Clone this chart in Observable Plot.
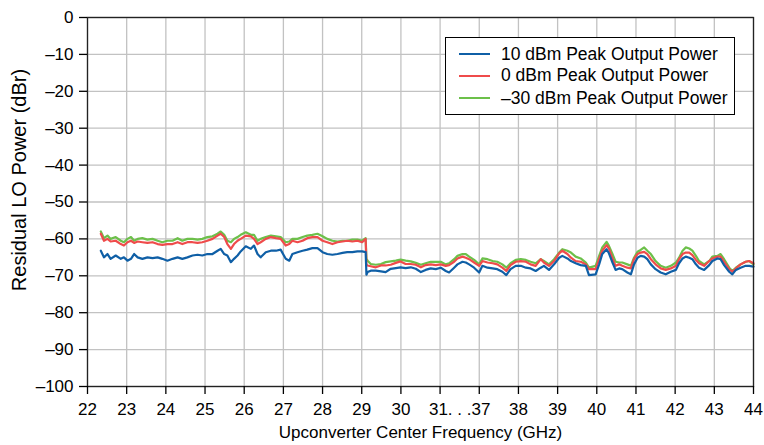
<!DOCTYPE html>
<html><head><meta charset="utf-8">
<script src="https://cdn.jsdelivr.net/npm/d3@7"></script>
<script src="https://cdn.jsdelivr.net/npm/@observablehq/plot@0.6"></script>
<style>
body{margin:0;background:#fff;}
#wrap{position:relative;width:764px;height:445px;font-family:"Liberation Sans",Arial,Helvetica,sans-serif;color:#000;}
#legend{position:absolute;left:445px;top:37px;width:290px;height:78px;border:1px solid #000;background:#fff;box-sizing:border-box;}
#legend .row{position:absolute;left:0;height:22px;display:flex;align-items:center;font-size:17.5px;white-space:nowrap;}
#legend .sw{width:31px;height:2px;margin-left:13px;margin-right:11px;}
#ytitle{position:absolute;left:0;top:0;font-size:20px;white-space:nowrap;transform-origin:0 0;}
</style></head><body><div id="wrap"></div>
<script>
// ---- data (frequency in GHz, residual LO power in dBr) ----
const freqGHz = [
22.34,22.42,22.51,22.59,22.72,22.85,22.93,23.02,23.11,23.19,23.28,23.40,23.53,23.66,23.79,23.91,24.04,24.17,24.30,24.42,24.55,24.68,24.81,24.93,25.06,25.19,25.32,25.40,25.49,25.57,25.66,25.74,25.83,25.91,26.04,26.17,26.25,26.34,26.42,
26.55,26.68,26.81,26.93,27.06,27.15,27.23,27.36,27.49,27.61,27.74,27.87,28.00,28.12,28.25,28.38,28.51,28.63,28.76,28.89,29.01,29.10,29.12,29.15,29.23,29.36,29.49,29.61,29.74,29.87,29.99,30.12,30.25,30.38,30.51,
30.63,30.76,30.89,31.10,31.87,32.38,33.15,33.66,34.43,34.94,35.45,36.21,36.98,37.08,37.21,37.34,37.46,37.59,37.69,37.80,37.93,38.06,38.19,38.31,38.44,38.57,38.65,38.78,38.91,39.04,39.12,39.25,39.34,39.46,39.59,39.72,39.80,
39.97,40.06,40.14,40.25,40.31,40.40,40.48,40.57,40.65,40.78,40.87,40.95,41.04,41.12,41.21,41.29,41.38,41.50,41.63,41.76,41.89,42.02,42.10,42.19,42.27,42.36,42.44,42.53,42.61,42.74,42.87,42.95,43.08,43.16,43.25,43.38,43.46,43.55,43.67,43.80,43.89,44.00];

const peak10dBm = [
-63.2,-65.0,-64.1,-65.4,-64.5,-65.4,-65.0,-65.9,-65.4,-64.1,-65.0,-65.4,-65.0,-65.2,-65.0,-65.4,-65.9,-65.4,-65.0,-65.4,-65.0,-64.5,-64.3,-64.5,-64.1,-64.1,-63.2,-62.7,-64.1,-64.5,-66.3,-65.4,-64.5,-63.4,-62.0,-62.7,-61.8,-64.1,-65.0,
-63.6,-63.2,-63.2,-62.9,-65.4,-65.9,-64.1,-63.6,-63.2,-62.9,-62.5,-62.5,-63.6,-64.1,-64.3,-64.1,-63.8,-63.6,-63.6,-63.4,-63.4,-63.6,-69.7,-69.0,-68.6,-68.6,-68.8,-69.0,-68.1,-67.9,-67.7,-67.9,-67.7,-68.1,-69.0,
-68.4,-68.0,-68.2,-67.8,-68.7,-69.1,-67.8,-66.9,-66.2,-66.4,-66.9,-67.8,-69.1,-67.3,-67.8,-68.0,-68.2,-68.9,-69.8,-68.2,-67.3,-67.3,-67.8,-68.0,-68.7,-67.8,-67.3,-68.4,-66.9,-65.1,-64.6,-65.3,-66.0,-66.6,-67.1,-67.3,-69.8,
-69.6,-66.9,-64.1,-62.8,-63.9,-66.4,-68.4,-68.0,-68.2,-69.1,-69.6,-66.9,-65.1,-64.6,-64.8,-65.5,-66.9,-68.2,-69.1,-69.6,-68.9,-68.4,-66.6,-65.3,-64.8,-65.1,-65.5,-66.9,-67.8,-68.4,-67.1,-66.0,-65.3,-65.5,-67.1,-68.9,-69.6,-68.4,-67.8,-67.3,-67.3,-67.5];

const peak0dBm = [
-58.6,-60.5,-60.0,-60.7,-60.5,-61.4,-61.8,-60.9,-60.5,-61.1,-60.7,-60.9,-61.1,-60.9,-61.4,-61.6,-61.4,-61.4,-60.9,-61.4,-60.9,-60.9,-61.1,-60.9,-60.5,-60.0,-59.1,-58.6,-59.5,-61.4,-62.7,-61.4,-60.5,-60.0,-59.1,-59.3,-60.0,-61.4,-60.9,
-60.0,-59.5,-59.8,-60.0,-61.8,-61.4,-60.5,-60.9,-60.5,-59.8,-59.5,-59.5,-60.5,-60.9,-61.4,-60.9,-60.7,-60.5,-60.7,-60.5,-60.9,-60.0,-67.0,-67.2,-67.4,-67.7,-67.2,-67.2,-67.0,-66.5,-66.1,-66.8,-66.8,-67.0,-67.7,
-67.1,-66.9,-67.1,-66.9,-67.3,-67.1,-66.2,-65.3,-64.8,-65.1,-65.5,-66.4,-67.3,-66.0,-66.4,-66.6,-66.9,-67.8,-68.7,-67.1,-66.2,-66.0,-66.2,-66.9,-67.3,-65.5,-66.4,-67.3,-66.0,-63.9,-63.2,-64.1,-65.1,-66.0,-66.2,-66.9,-68.2,
-68.2,-65.5,-63.2,-61.7,-62.6,-65.3,-67.3,-66.9,-67.3,-67.8,-68.0,-65.5,-64.1,-63.7,-63.5,-64.1,-65.5,-66.9,-68.0,-68.4,-68.0,-67.3,-65.5,-64.1,-63.7,-63.7,-64.4,-65.7,-66.6,-67.3,-66.0,-65.3,-64.8,-64.8,-66.2,-68.2,-68.9,-68.0,-66.9,-66.2,-66.0,-66.6];

const peakMinus30dBm = [
-58.0,-59.8,-59.1,-60.0,-59.5,-60.5,-60.9,-60.0,-59.5,-60.5,-60.0,-59.8,-60.2,-60.0,-60.5,-60.9,-60.5,-60.5,-59.8,-60.5,-60.0,-60.0,-60.2,-60.0,-59.5,-59.3,-58.6,-58.0,-58.9,-60.5,-60.9,-60.0,-59.5,-58.9,-58.2,-58.9,-58.9,-60.5,-60.0,
-59.5,-59.1,-59.3,-59.5,-60.9,-60.7,-60.0,-60.0,-59.5,-59.1,-58.9,-58.6,-59.3,-60.0,-60.5,-60.7,-60.5,-60.5,-60.2,-60.2,-60.5,-59.8,-65.4,-65.9,-66.8,-67.0,-66.8,-66.3,-66.1,-65.9,-65.6,-65.9,-66.1,-66.5,-67.0,
-66.6,-66.2,-66.2,-66.2,-66.9,-66.6,-65.5,-64.6,-64.1,-64.1,-64.8,-65.7,-66.9,-65.3,-65.5,-66.0,-66.2,-66.9,-67.8,-66.6,-65.7,-65.5,-65.7,-66.2,-66.6,-65.5,-66.0,-66.9,-65.5,-63.7,-62.8,-63.2,-63.7,-64.8,-65.3,-66.4,-67.8,
-67.3,-64.6,-62.3,-60.8,-61.9,-64.1,-66.2,-66.4,-66.4,-66.9,-67.3,-65.1,-63.5,-63.0,-62.3,-63.2,-64.1,-66.0,-67.3,-67.8,-67.3,-66.4,-65.1,-63.2,-62.3,-62.6,-63.2,-64.6,-66.0,-66.9,-66.0,-64.8,-64.6,-64.1,-65.5,-67.8,-68.7,-67.8,-66.9,-66.2,-66.0,-66.9];

const seriesNames = ["10 dBm Peak Output Power", "0 dBm Peak Output Power", "\u201330 dBm Peak Output Power"];
const seriesColors = ["#0f5fa6", "#ef4b4b", "#6cc04a"];
const xTicks = [22,23,24,25,26,27,28,29,30,31,37,38,39,40,41,42,43,44];
const xBreakLabel = "31. . .37";
const xBreakAt = 34;
const yTicks = [0,-10,-20,-30,-40,-50,-60,-70,-80,-90,-100];
const xTitle = "Upconverter Center Frequency (GHz)";
const yTitle = "Residual LO Power (dBr)";

// ---- build table ----
const valueSets = [peak10dBm, peak0dBm, peakMinus30dBm];
const drawOrder = [2, 1, 0];
const rows = [];
for (const s of drawOrder) {
  freqGHz.forEach((f, i) => rows.push({f, v: valueSets[s][i], s: seriesNames[s]}));
}

const W = 764, H = 445, mL = 87, mR = 11, mT = 17, mB = 59;
const unit = (W - mL - mR) / 17;
const fmtY = d => d < 0 ? "\u2013" + (-d) : String(d);

const chart = Plot.plot({
  width: W, height: H,
  marginLeft: mL, marginRight: mR, marginTop: mT, marginBottom: mB,
  style: {fontFamily: "'Liberation Sans', Arial, Helvetica, sans-serif", fontSize: "17px", color: "#000", background: "#fff"},
  x: {type: "linear", domain: [22, 31, 37, 44], range: [mL, mL + 9 * unit, mL + 10 * unit, W - mR]},
  y: {domain: [-100, 0]},
  color: {domain: seriesNames, range: seriesColors},
  marks: [
    Plot.gridX(xTicks, {stroke: "#c2c2c2", strokeOpacity: 1, strokeWidth: 1.3}),
    Plot.gridY(yTicks, {stroke: "#c2c2c2", strokeOpacity: 1, strokeWidth: 1.3}),
    Plot.line(rows, {x: "f", y: "v", z: "s", stroke: "s", strokeWidth: 2.2, curve: "linear"}),
    Plot.frame({stroke: "#222", strokeWidth: 1.3}),
    Plot.axisX(xTicks, {tickSize: 8, tickPadding: 8, strokeWidth: 1.3,
      tickFormat: d => (d === 31 || d === 37) ? "" : String(d),
      label: xTitle, labelAnchor: "center", labelArrow: "none", labelOffset: 51}),
    Plot.axisX([xBreakAt], {tickSize: 0, tickPadding: 16, tickFormat: () => xBreakLabel, label: null}),
    Plot.axisY(yTicks, {tickSize: 8, tickPadding: 6, strokeWidth: 1.3, tickFormat: fmtY, label: null})
  ]
});

const wrap = document.getElementById("wrap");
wrap.appendChild(chart);

// y title (rotated)
const yt = document.createElement("div");
yt.id = "ytitle";
yt.textContent = yTitle;
wrap.appendChild(yt);
const ytw = yt.getBoundingClientRect().width;
const ytCenter = 180;
yt.style.transform = `translate(8px, ${ytCenter + ytw / 2}px) rotate(-90deg)`;

// legend
const lg = document.createElement("div");
lg.id = "legend";
const rowTops = [5, 26.5, 49];
seriesNames.forEach((name, i) => {
  const r = document.createElement("div");
  r.className = "row";
  r.style.top = rowTops[i] + "px";
  const sw = document.createElement("span");
  sw.className = "sw";
  sw.style.background = seriesColors[i];
  const t = document.createElement("span");
  t.textContent = name;
  r.appendChild(sw); r.appendChild(t);
  lg.appendChild(r);
});
wrap.appendChild(lg);
</script>
</body></html>
